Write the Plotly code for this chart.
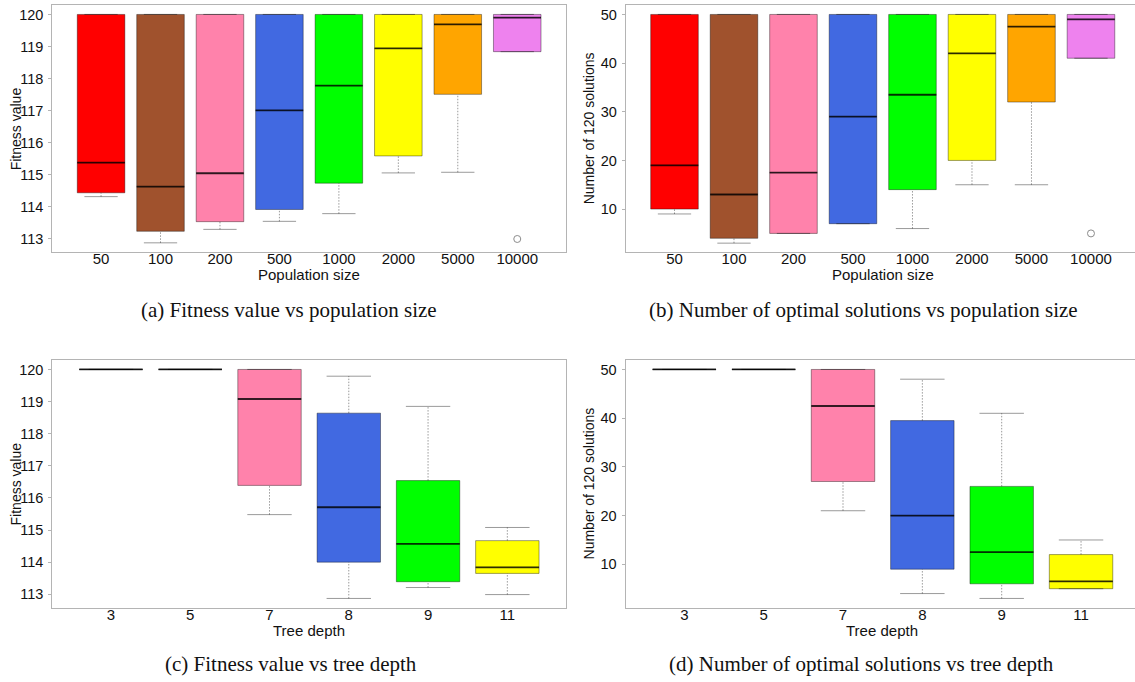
import plotly.graph_objects as go

# ---------------- data ----------------
pop_sizes = ["50", "100", "200", "500", "1000", "2000", "5000", "10000"]
pop_colors = ["#FF0000", "#A0522D", "#FF82AB", "#4169E1", "#00FF00", "#FFFF00", "#FFA500", "#EE82EE"]

fit_pop_low = [114.32, 112.88, 113.30, 113.55, 113.79, 115.06, 115.08, 118.84]
fit_pop_q1 = [114.44, 113.24, 113.54, 113.92, 114.74, 115.59, 117.51, 118.84]
fit_pop_med = [115.38, 114.63, 115.05, 117.01, 117.78, 118.94, 119.69, 119.90]
fit_pop_q3 = [120, 120, 120, 120, 120, 120, 120, 120]
fit_pop_high = [120, 120, 120, 120, 120, 120, 120, 120]
fit_pop_out_x = ["10000"]
fit_pop_out_y = [113.0]

num_pop_low = [9, 3, 5, 7, 6, 15, 15, 41]
num_pop_q1 = [10, 4, 5, 7, 14, 20, 32, 41]
num_pop_med = [19, 13, 17.5, 29, 33.5, 42, 47.5, 49]
num_pop_q3 = [50, 50, 50, 50, 50, 50, 50, 50]
num_pop_high = [50, 50, 50, 50, 50, 50, 50, 50]
num_pop_out_x = ["10000"]
num_pop_out_y = [5]

depths = ["3", "5", "7", "8", "9", "11"]
depth_colors = ["#FF0000", "#A0522D", "#FF82AB", "#4169E1", "#00FF00", "#FFFF00"]

fit_dep_low = [120, 120, 115.48, 112.87, 113.21, 112.99]
fit_dep_q1 = [120, 120, 116.39, 114.00, 113.39, 113.65]
fit_dep_med = [120, 120, 119.08, 115.71, 114.57, 113.84]
fit_dep_q3 = [120, 120, 120, 118.64, 116.54, 114.67]
fit_dep_high = [120, 120, 120, 119.79, 118.85, 115.08]

num_dep_low = [50, 50, 21, 4, 3, 5]
num_dep_q1 = [50, 50, 27, 9, 6, 5]
num_dep_med = [50, 50, 42.5, 20, 12.5, 6.5]
num_dep_q3 = [50, 50, 50, 39.5, 26, 12]
num_dep_high = [50, 50, 50, 48, 41, 15]

captions = [
    "(a) Fitness value vs population size",
    "(b) Number of optimal solutions vs population size",
    "(c) Fitness value vs tree depth",
    "(d) Number of optimal solutions vs tree depth",
]

# ---------------- styling / layout ----------------
W, H = 1135, 682
SANS = "Liberation Sans, Arial, sans-serif"
SERIF = "Liberation Serif, Times New Roman, serif"
FRAME = "#B4B4B4"
BORDER = "rgba(0,0,0,0.38)"
WHISK = "rgba(0,0,0,0.4)"
MEDIAN = "rgba(0,0,0,0.75)"
BOXW = 0.8

# panel pixel boxes: (left, right, top, bottom)
panels = [
    dict(l=52.3, r=566.0, t=5.3, b=252.3, xr=[-0.82, 7.82], yr=[112.585, 120.285], mirror_y=True),
    dict(l=625.7, r=1135.0, t=5.3, b=252.3, xr=[-0.82, 7.74], yr=[1.12, 51.88], mirror_y=False),
    dict(l=52.3, r=566.0, t=360.3, b=607.6, xr=[-0.74, 5.74], yr=[112.585, 120.285], mirror_y=True),
    dict(l=625.6, r=1135.0, t=360.3, b=607.6, xr=[-0.74, 5.68], yr=[1.12, 51.88], mirror_y=False),
]

datasets = [
    (pop_sizes, pop_colors, fit_pop_low, fit_pop_q1, fit_pop_med, fit_pop_q3, fit_pop_high, fit_pop_out_x, fit_pop_out_y),
    (pop_sizes, pop_colors, num_pop_low, num_pop_q1, num_pop_med, num_pop_q3, num_pop_high, num_pop_out_x, num_pop_out_y),
    (depths, depth_colors, fit_dep_low, fit_dep_q1, fit_dep_med, fit_dep_q3, fit_dep_high, [], []),
    (depths, depth_colors, num_dep_low, num_dep_q1, num_dep_med, num_dep_q3, num_dep_high, [], []),
]

yticks = [
    list(range(113, 121)),
    [10, 20, 30, 40, 50],
    list(range(113, 121)),
    [10, 20, 30, 40, 50],
]
xtitles = ["Population size", "Population size", "Tree depth", "Tree depth"]
ytitles = ["Fitness value", "Number of 120 solutions", "Fitness value", "Number of 120 solutions"]

fig = go.Figure()
layout = dict(
    width=W, height=H, margin=dict(l=0, r=0, t=0, b=0),
    paper_bgcolor="white", plot_bgcolor="white", showlegend=False,
    boxmode="overlay", annotations=[],
)

for i, (p, d) in enumerate(zip(panels, datasets)):
    cats, cols, low, q1, med, q3, high, ox, oy = d
    n = i + 1
    xa = "x" if n == 1 else f"x{n}"
    ya = "y" if n == 1 else f"y{n}"
    unit_px = (p["r"] - p["l"]) / (p["xr"][1] - p["xr"][0])

    # boxes
    for c, col, a, m, b in zip(cats, cols, q1, med, q3):
        fig.add_trace(go.Box(
            x=[c], q1=[a], median=[m], q3=[b], lowerfence=[a], upperfence=[b],
            width=BOXW, fillcolor=col, line=dict(color=BORDER, width=1),
            whiskerwidth=0, boxpoints=False, xaxis=xa, yaxis=ya, hoverinfo="skip",
        ))
    # medians (thick dark)
    fig.add_trace(go.Box(
        x=cats, q1=med, median=med, q3=med, lowerfence=med, upperfence=med,
        width=BOXW, fillcolor="rgba(0,0,0,0)", line=dict(color=MEDIAN, width=1.8),
        whiskerwidth=0, boxpoints=False, xaxis=xa, yaxis=ya, hoverinfo="skip",
    ))
    # whiskers (dotted)
    wx, wy = [], []
    for c, lo, a, b, hi in zip(cats, low, q1, q3, high):
        if lo < a:
            wx += [c, c, None]
            wy += [lo, a, None]
        if hi > b:
            wx += [c, c, None]
            wy += [b, hi, None]
    fig.add_trace(go.Scatter(
        x=wx, y=wy, mode="lines", line=dict(color=WHISK, width=1, dash="1.5px,1.5px"),
        xaxis=xa, yaxis=ya, hoverinfo="skip",
    ))
    # staples
    sx, sy = [], []
    for c, lo, hi in zip(cats, low, high):
        sx += [c, c]
        sy += [lo, hi]
    fig.add_trace(go.Scatter(
        x=sx, y=sy, mode="markers",
        marker=dict(symbol="line-ew", size=0.4 * unit_px, color=WHISK,
                    line=dict(color=WHISK, width=1)),
        xaxis=xa, yaxis=ya, hoverinfo="skip",
    ))
    # outliers
    if ox:
        fig.add_trace(go.Scatter(
            x=ox, y=oy, mode="markers",
            marker=dict(symbol="circle-open", size=7, color="#8c8c8c",
                        line=dict(color="#8c8c8c", width=1)),
            xaxis=xa, yaxis=ya, hoverinfo="skip",
        ))

    xdom = [p["l"] / W, min(p["r"] / W, 1.0)]
    ydom = [1 - p["b"] / H, 1 - p["t"] / H]
    xkey = "xaxis" if n == 1 else f"xaxis{n}"
    ykey = "yaxis" if n == 1 else f"yaxis{n}"
    layout[xkey] = dict(
        domain=xdom, anchor=ya, type="category", categoryorder="array", categoryarray=cats,
        range=p["xr"], showgrid=False, zeroline=False, showline=True, mirror=True,
        linecolor=FRAME, linewidth=1, ticks="", tickfont=dict(family=SANS, size=15, color="#111"),
        ticklabelstandoff=-7, fixedrange=True,
    )
    layout[ykey] = dict(
        domain=ydom, anchor=xa, range=p["yr"], tickvals=yticks[i],
        showgrid=False, zeroline=False, showline=True, mirror=p["mirror_y"],
        linecolor=FRAME, linewidth=1, ticks="outside", ticklen=3, tickcolor=FRAME,
        tickfont=dict(family=SANS, size=14.5, color="#111"), ticklabelstandoff=2,
        fixedrange=True,
    )

    cx = (p["l"] + p["l"] + 513.7) / 2
    layout["annotations"].append(dict(
        text=xtitles[i], x=cx / W, y=1 - (p["b"] + 22.5) / H, xref="paper", yref="paper",
        xanchor="center", yanchor="middle", showarrow=False,
        font=dict(family=SANS, size=15, color="#111"),
    ))
    ytx = 15.5 if n in (1, 3) else 588.5
    layout["annotations"].append(dict(
        text=ytitles[i], x=ytx / W, y=1 - ((p["t"] + p["b"]) / 2) / H, xref="paper", yref="paper",
        xanchor="center", yanchor="middle", textangle=-90, showarrow=False,
        font=dict(family=SANS, size=14, color="#111"),
    ))

cap_pos = [(288.5, 310), (863, 310), (291, 664), (861.5, 664)]
for (cx, cy), txt in zip(cap_pos, captions):
    layout["annotations"].append(dict(
        text=txt, x=cx / W, y=1 - cy / H, xref="paper", yref="paper",
        xanchor="center", yanchor="middle", showarrow=False,
        font=dict(family=SERIF, size=21, color="#111"),
    ))

fig.update_layout(**layout)
fig.write_html("out.html")
